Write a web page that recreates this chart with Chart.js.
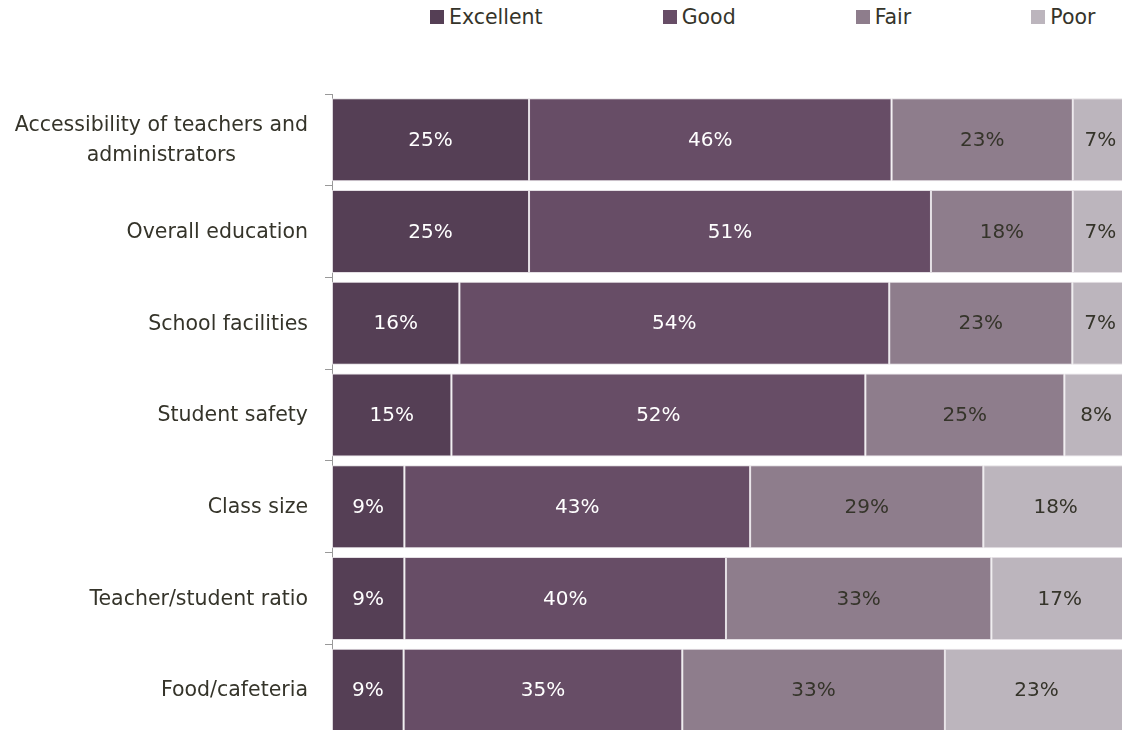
<!DOCTYPE html>
<html>
<head>
<meta charset="utf-8">
<script src="https://cdn.jsdelivr.net/npm/chart.js@4"></script>
<style>
  html, body { margin: 0; padding: 0; background: #fff; overflow: hidden; }
  body { width: 1122px; height: 730px; position: relative; }
  #legend {
    position: absolute; top: 5px; left: 430px;
    display: flex; gap: 120px;
    font: 20.5px "DejaVu Sans", sans-serif; color: #35342a;
  }
  #legend span { display: flex; align-items: center; }
  #legend i { display: inline-block; width: 14px; height: 14px; margin-right: 5px; }
  #wrap { position: absolute; left: 0; top: 0; width: 1130px; height: 740px; }
</style>
</head>
<body>
<div id="legend"></div>
<div id="wrap"><canvas id="surveyChart"></canvas></div>
<script>
const categories = [
  ["Accessibility of teachers and", "administrators"],
  ["Overall education"],
  ["School facilities"],
  ["Student safety"],
  ["Class size"],
  ["Teacher/student ratio"],
  ["Food/cafeteria"],
];
const seriesNames = ["Excellent", "Good", "Fair", "Poor"];
const excellent = [25, 25, 16, 15, 9, 9, 9];
const good = [46, 51, 54, 52, 43, 40, 35];
const fair = [23, 18, 23, 25, 29, 33, 33];
const poor = [7, 7, 7, 8, 18, 17, 23];

const colors = ["#553f55", "#674d66", "#8e7d8c", "#bcb5bd"];
const labelColors = ["#ffffff", "#ffffff", "#35342a", "#35342a"];
const textColor = "#35342a";
const fontFamily = '"DejaVu Sans", sans-serif';

const series = [excellent, good, fair, poor];

// each row is shown as a share of its own total (100% stacked)
const rowTotals = categories.map((_, i) => series.reduce((s, arr) => s + arr[i], 0));

const legendEl = document.getElementById("legend");
seriesNames.forEach((name, k) => {
  const item = document.createElement("span");
  item.innerHTML = '<i style="background:' + colors[k] + '"></i>' + name;
  legendEl.appendChild(item);
});

// percentage text centred in each segment
const segmentLabels = {
  id: "segmentLabels",
  afterDatasetsDraw(chart) {
    const ctx = chart.ctx;
    ctx.save();
    ctx.font = "20px " + fontFamily;
    ctx.textAlign = "center";
    ctx.textBaseline = "middle";
    chart.data.datasets.forEach((ds, k) => {
      const meta = chart.getDatasetMeta(k);
      meta.data.forEach((bar, i) => {
        const p = bar.getCenterPoint();
        ctx.fillStyle = labelColors[k];
        ctx.fillText(series[k][i] + "%", p.x, p.y + 1);
      });
    });
    ctx.restore();
  },
};

// category names: right-aligned block, lines centred within it
const categoryLabels = {
  id: "categoryLabels",
  afterDraw(chart) {
    const ctx = chart.ctx;
    const y = chart.scales.y;
    const right = chart.chartArea.left - 24;
    const lineH = 30;
    ctx.save();
    ctx.font = "20.5px " + fontFamily;
    ctx.fillStyle = textColor;
    ctx.textBaseline = "middle";
    ctx.textAlign = "center";
    categories.forEach((lines, i) => {
      const cy = y.getPixelForValue(i);
      const w = Math.max(...lines.map((l) => ctx.measureText(l).width));
      const cx = right - w / 2;
      lines.forEach((l, j) => {
        ctx.fillText(l, cx, cy + (j - (lines.length - 1) / 2) * lineH + 1);
      });
    });
    ctx.restore();
  },
};

const ctx = document.getElementById("surveyChart").getContext("2d");
new Chart(ctx, {
  type: "bar",
  data: {
    labels: categories.map((c) => c.join(" ")),
    datasets: series.map((arr, k) => ({
      label: seriesNames[k],
      data: arr.map((v, i) => (v / rowTotals[i]) * 100),
      backgroundColor: colors[k],
      borderColor: "rgba(225,220,225,0.9)",
      borderWidth: 1,
      borderSkipped: false,
      categoryPercentage: 0.905,
      barPercentage: 1,
    })),
  },
  options: {
    indexAxis: "y",
    responsive: true,
    maintainAspectRatio: false,
    animation: false,
    layout: { padding: { top: 94, bottom: 4, right: 2, left: 0 } },
    plugins: {
      legend: { display: false },
      tooltip: { enabled: false },
    },
    scales: {
      x: {
        stacked: true,
        min: 0,
        max: 100,
        display: false,
      },
      y: {
        stacked: true,
        grid: {
          offset: true,
          drawOnChartArea: false,
          drawTicks: true,
          tickLength: 7,
          color: "#999999",
        },
        border: { display: true, color: "#999999", width: 1 },
        ticks: { display: false },
        afterFit(scale) {
          scale.width = 332;
        },
      },
    },
  },
  plugins: [segmentLabels, categoryLabels],
});
</script>
</body>
</html>
